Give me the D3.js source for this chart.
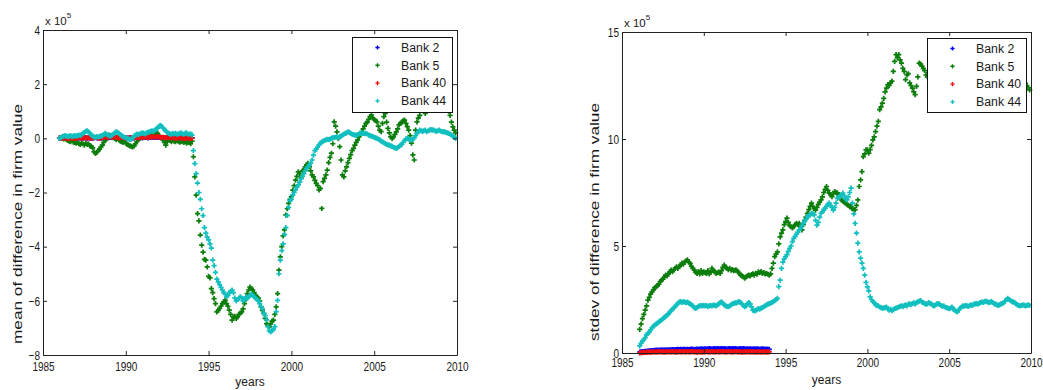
<!DOCTYPE html>
<html><head><meta charset="utf-8">
<script src="https://cdn.jsdelivr.net/npm/d3@7"></script>
<style>
body{margin:0;background:#fff}
svg{display:block}
text{font-family:"Liberation Sans",Arial,Helvetica,sans-serif;fill:#1a1a1a}
</style>
</head><body>
<svg id="chart" width="1043" height="390"></svg>
<script>
// ---------------- DATA ----------------
const seriesNames = ["Bank 2", "Bank 5", "Bank 40", "Bank 44"];
const seriesColors = ["#0000ff", "#0b7d0b", "#ee1111", "#12bfbf"];
const xTicks = [1985, 1990, 1995, 2000, 2005, 2010];
const meanTicks = [-8, -6, -4, -2, 0, 2, 4];
const stdTicks = [0, 5, 10, 15];
const meanStartYear = 1986;            // monthly observations
const stdStartYear = 1986 + 1 / 12;    // monthly observations
const monthsPerYear = 12;

// mean of difference in firm value (x 10^5)
const meanBank2 = [
 0.01,0.02,0.01,0.01,0.02,0.01,0.01,0.02,0.01,0.02,0.01,0.01,
 0.01,0.02,0.02,0.02,0.01,0.02,0.02,0.02,0.01,0.02,0.02,0.01,
 0.02,0.02,0.03,0.02,0.02,0.01,0.02,0.02,0.03,0.03,0.03,0.02,
 0.03,0.03,0.03,0.04,0.03,0.03,0.02,0.02,0.02,0.03,0.02,0.02,
 0.01,0.01,0.01,0.02,0.02,0.02,0.02,0.03,0.02,0.02,0.02,0.03,
 0.02,0.03,0.03,0.03,0.02,0.03,0.03,0.04,0.03,0.03,0.03,0.04,
 0.03,0.03,0.02,0.03,0.02,0.02,0.02,0.03,0.02,0.02,0.02,0.02,
 0.01,0.01,0.02,0.01,0.01,0.01,0.01,0.01,0.01,0.01,0.01,0.01,
 0.01];
const meanBank5 = [
 0.02,0.00,0.04,-0.02,0.03,-0.05,-0.08,-0.10,-0.12,-0.08,-0.14,-0.15,
 -0.18,-0.15,-0.20,-0.22,-0.18,-0.20,-0.25,-0.18,-0.22,-0.20,-0.28,-0.30,
 -0.35,-0.50,-0.56,-0.52,-0.45,-0.40,-0.32,-0.25,-0.15,-0.08,-0.02,0.05,
 0.12,0.10,0.08,0.05,0.00,-0.05,0.02,-0.06,-0.10,-0.12,-0.15,-0.10,
 -0.18,-0.22,-0.25,-0.28,-0.30,-0.32,-0.28,-0.20,-0.12,-0.05,0.00,0.06,
 0.08,0.05,0.10,0.12,0.08,0.14,0.16,0.18,0.12,0.15,0.20,0.18,
 0.10,0.05,0.00,-0.05,-0.15,-0.25,-0.12,-0.05,-0.08,-0.12,-0.08,-0.10,
 -0.12,-0.08,-0.10,-0.14,-0.12,-0.10,-0.15,-0.12,-0.18,-0.14,-0.15,-0.20,
 -0.10,-0.68,-1.42,-2.10,-2.78,-3.05,-3.57,-3.94,-4.20,-4.47,-4.50,-4.75,
 -5.10,-5.15,-5.55,-5.70,-5.92,-6.10,-6.41,-6.35,-6.28,-6.20,-6.10,-6.05,
 -5.97,-6.10,-6.20,-6.34,-6.50,-6.71,-6.60,-6.57,-6.65,-6.59,-6.50,-6.45,
 -6.41,-6.30,-6.10,-5.95,-5.73,-5.60,-5.49,-5.55,-5.60,-5.70,-5.80,-5.85,
 -5.90,-6.00,-6.22,-6.35,-6.47,-6.65,-6.84,-6.90,-6.96,-6.85,-6.75,-6.71,
 -6.50,-6.22,-5.73,-4.87,-4.38,-4.00,-3.60,-3.38,-2.83,-2.60,-2.40,-2.25,
 -2.15,-1.91,-1.75,-1.54,-1.40,-1.24,-1.30,-1.45,-1.20,-1.17,-1.05,-0.98,
 -0.92,-1.05,-1.20,-1.35,-1.42,-1.55,-1.66,-1.75,-1.90,-1.85,-2.59,-1.60,
 -1.48,-1.35,-1.17,-0.90,-0.70,-0.55,-0.20,0.61,0.45,0.24,0.00,-0.31,
 -0.80,-1.35,-1.42,-1.20,-1.05,-0.90,-0.74,-0.60,-0.45,-0.37,-0.25,-0.15,
 -0.06,0.05,0.15,0.25,0.35,0.45,0.55,0.60,0.70,0.80,0.86,0.75,
 0.70,0.65,0.61,0.45,0.30,0.25,0.55,0.80,0.92,0.60,0.37,0.20,
 0.05,0.00,0.05,0.15,0.24,0.35,0.50,0.55,0.60,0.65,0.67,0.55,
 0.43,0.30,0.10,-0.18,-0.61,-0.80,0.30,0.61,0.75,0.85,1.10,1.20,
 1.30,0.92,1.35,1.45,1.40,1.30,1.35,1.45,1.55,1.50,1.40,1.35,
 1.25,1.30,1.20,1.15,1.10,1.05,1.00,0.85,0.60,0.42,0.30,0.20];
const meanBank40 = [
 0.01,0.02,0.00,0.01,0.02,0.01,0.00,0.02,0.01,0.02,0.01,0.00,
 0.01,0.02,0.03,0.02,0.01,0.02,0.03,0.02,0.01,0.03,0.02,0.01,
 0.02,0.03,0.04,0.03,0.02,0.01,0.02,0.03,0.04,0.05,0.04,0.03,
 0.06,0.05,0.04,0.05,0.06,0.04,0.03,0.02,0.03,0.04,0.03,0.02,
 0.01,0.00,0.01,0.02,0.03,0.02,0.03,0.04,0.03,0.02,0.03,0.04,
 0.03,0.04,0.05,0.04,0.03,0.04,0.05,0.06,0.05,0.04,0.05,0.06,
 0.05,0.04,0.03,0.04,0.03,0.02,0.03,0.04,0.03,0.02,0.03,0.02,
 0.01,0.02,0.03,0.02,0.01,0.02,0.01,0.00,0.01,0.02,0.01,0.00,
 0.01];
const meanBank44 = [
 0.00,0.03,0.06,0.08,0.10,0.08,0.06,0.08,0.10,0.06,0.08,0.10,
 0.08,0.10,0.12,0.10,0.14,0.18,0.22,0.26,0.28,0.24,0.18,0.12,
 0.08,0.05,0.04,0.06,0.05,0.07,0.08,0.10,0.14,0.18,0.15,0.12,
 0.10,0.08,0.12,0.16,0.20,0.24,0.22,0.18,0.14,0.10,0.06,0.04,
 0.02,0.00,-0.02,-0.04,-0.03,0.02,0.08,0.12,0.16,0.14,0.16,0.18,
 0.20,0.18,0.16,0.20,0.22,0.24,0.26,0.28,0.26,0.30,0.34,0.38,
 0.44,0.48,0.44,0.38,0.32,0.28,0.22,0.18,0.16,0.15,0.18,0.16,
 0.18,0.15,0.16,0.18,0.20,0.17,0.15,0.18,0.20,0.16,0.15,0.17,
 0.12,-0.45,-0.93,-1.30,-1.65,-2.00,-2.25,-2.60,-2.85,-3.30,-3.50,-3.65,
 -3.75,-3.90,-4.05,-4.50,-4.70,-4.95,-5.20,-5.30,-5.40,-5.50,-5.60,-5.70,
 -5.75,-5.85,-5.80,-5.70,-5.65,-5.60,-5.70,-5.90,-6.00,-5.95,-5.90,-5.85,
 -5.90,-6.00,-5.95,-5.85,-5.90,-5.85,-5.80,-5.75,-5.80,-5.85,-5.90,-5.95,
 -6.00,-6.10,-6.20,-6.30,-6.45,-6.55,-6.70,-6.95,-7.10,-7.15,-7.10,-7.05,
 -6.95,-6.40,-5.98,-5.00,-4.50,-4.15,-3.90,-3.55,-3.30,-2.85,-2.55,-2.30,
 -2.25,-2.10,-2.00,-1.90,-1.80,-1.72,-1.62,-1.50,-1.40,-1.30,-1.20,-1.12,
 -1.05,-0.98,-0.92,-0.80,-0.62,-0.45,-0.40,-0.32,-0.25,-0.18,-0.14,-0.10,
 -0.08,-0.06,-0.04,-0.05,-0.03,0.00,0.02,0.03,0.04,0.05,0.03,0.06,
 0.08,0.12,0.15,0.18,0.20,0.24,0.22,0.18,0.15,0.14,0.12,0.12,
 0.14,0.16,0.18,0.20,0.18,0.17,0.18,0.16,0.12,0.10,0.08,0.06,
 0.04,0.02,0.00,-0.03,-0.06,-0.10,-0.13,-0.16,-0.20,-0.22,-0.24,-0.25,
 -0.28,-0.30,-0.33,-0.35,-0.37,-0.34,-0.30,-0.26,-0.22,-0.15,-0.08,-0.02,
 0.00,-0.03,-0.05,-0.06,-0.04,0.02,0.10,0.18,0.25,0.30,0.28,0.26,
 0.28,0.30,0.25,0.27,0.30,0.32,0.30,0.31,0.28,0.26,0.28,0.30,
 0.27,0.25,0.25,0.24,0.22,0.20,0.18,0.16,0.12,0.08,0.04,0.00];

// stdev of difference in firm value (x 10^5)
const stdBank2 = [
 0.04,0.05,0.06,0.07,0.08,0.08,0.09,0.10,0.10,0.11,0.11,
 0.12,0.12,0.13,0.12,0.13,0.14,0.13,0.14,0.14,0.15,0.14,0.15,
 0.15,0.16,0.15,0.16,0.16,0.17,0.16,0.17,0.16,0.17,0.17,0.16,
 0.17,0.16,0.17,0.18,0.17,0.16,0.17,0.18,0.17,0.18,0.19,0.18,
 0.18,0.19,0.18,0.19,0.20,0.19,0.18,0.19,0.20,0.19,0.20,0.19,
 0.19,0.20,0.19,0.20,0.19,0.18,0.19,0.20,0.19,0.20,0.19,0.20,
 0.19,0.18,0.19,0.20,0.19,0.20,0.19,0.18,0.19,0.18,0.19,0.18,
 0.18,0.19,0.18,0.19,0.18,0.17,0.18,0.19,0.18,0.17,0.18,0.17,
 0.17];
const stdBank5 = [
 1.10,1.35,1.61,1.80,2.00,2.20,2.47,2.60,2.75,2.86,2.95,
 3.05,3.09,3.15,3.22,3.33,3.40,3.45,3.55,3.64,3.60,3.70,3.78,
 3.87,3.80,3.90,3.95,4.03,3.95,4.05,4.11,4.20,4.15,4.25,4.31,
 4.35,4.25,4.19,4.05,3.95,3.87,3.78,3.72,3.80,3.70,3.85,3.72,
 3.79,3.75,3.72,3.85,3.70,3.78,3.95,3.85,3.80,3.72,3.75,3.78,
 3.72,3.85,4.00,4.11,4.00,3.95,3.90,3.95,3.87,3.90,3.85,3.87,
 3.87,3.80,3.72,3.64,3.60,3.56,3.50,3.56,3.60,3.64,3.60,3.66,
 3.70,3.64,3.72,3.68,3.79,3.75,3.80,3.72,3.76,3.70,3.72,3.68,
 3.64,3.70,3.95,4.20,4.50,4.62,4.73,5.10,5.43,5.60,5.75,6.00,
 6.14,6.30,6.10,5.95,5.90,5.85,5.90,6.00,6.06,6.00,6.06,5.90,
 5.75,6.00,6.20,6.35,6.53,6.70,6.85,7.00,6.85,6.75,6.68,6.80,
 6.95,7.05,7.15,7.30,7.50,7.65,7.78,7.60,7.47,7.40,7.31,7.45,
 7.54,7.50,7.47,7.40,7.30,7.15,7.10,7.05,7.00,6.95,6.90,6.84,
 6.84,6.75,6.68,6.70,6.90,7.15,7.78,8.09,8.48,9.18,9.30,9.49,
 9.49,9.34,9.50,9.70,9.96,10.10,10.35,10.60,10.82,11.37,11.50,11.68,
 11.90,12.20,12.38,12.54,12.50,12.62,12.70,13.16,13.63,13.94,13.80,13.94,
 13.70,13.55,13.30,13.16,12.77,13.00,13.05,12.62,12.50,12.38,12.20,12.07,
 12.46,12.90,13.55,13.50,13.40,13.30,13.20,13.00,12.90,13.10,13.30,13.20,
 13.00,12.80,12.90,13.10,13.30,13.20,13.00,12.70,12.60,12.80,13.00,13.10,
 13.20,13.40,13.30,13.10,12.90,12.80,12.90,13.10,13.20,13.00,12.80,12.70,
 12.80,13.00,13.20,13.10,12.90,12.80,12.70,12.90,13.00,13.20,13.30,13.10,
 13.00,12.90,12.80,13.00,13.20,13.40,13.50,13.30,13.20,13.00,12.90,12.80,
 12.90,13.10,13.30,13.50,13.60,13.40,13.20,13.00,12.80,12.70,12.90,13.00,
 13.10,13.00,12.90,12.80,12.90,13.00,12.80,12.70,12.60,12.50,12.40,12.30];
const stdBank40 = [
 0.01,0.02,0.02,0.03,0.03,0.03,0.04,0.04,0.04,0.04,0.05,
 0.05,0.04,0.05,0.05,0.06,0.05,0.05,0.04,0.05,0.05,0.06,0.05,
 0.05,0.06,0.05,0.05,0.04,0.05,0.06,0.05,0.05,0.06,0.05,0.05,
 0.06,0.05,0.05,0.06,0.06,0.05,0.05,0.04,0.05,0.05,0.05,0.04,
 0.05,0.05,0.06,0.05,0.05,0.05,0.06,0.05,0.05,0.05,0.06,0.05,
 0.05,0.06,0.06,0.05,0.05,0.05,0.06,0.06,0.05,0.05,0.05,0.06,
 0.06,0.05,0.05,0.05,0.04,0.05,0.05,0.05,0.06,0.05,0.05,0.05,
 0.05,0.05,0.04,0.05,0.05,0.05,0.04,0.05,0.05,0.05,0.04,0.05,
 0.05];
const stdBank44 = [
 0.33,0.45,0.55,0.62,0.72,0.85,0.92,0.98,1.08,1.18,1.25,
 1.30,1.35,1.40,1.45,1.50,1.55,1.60,1.65,1.72,1.77,1.82,1.90,
 1.98,2.05,2.10,2.18,2.25,2.32,2.38,2.40,2.36,2.40,2.38,2.35,
 2.38,2.33,2.30,2.25,2.20,2.12,2.08,2.12,2.18,2.20,2.22,2.20,
 2.23,2.20,2.22,2.18,2.20,2.22,2.20,2.24,2.23,2.20,2.25,2.30,
 2.35,2.39,2.32,2.25,2.20,2.18,2.16,2.20,2.25,2.30,2.32,2.34,
 2.34,2.38,2.40,2.36,2.30,2.22,2.16,2.20,2.30,2.35,2.30,2.15,
 2.00,1.97,1.98,2.02,2.08,2.05,2.10,2.12,2.16,2.20,2.25,2.28,
 2.31,2.33,2.36,2.40,2.45,2.50,2.55,3.10,3.40,3.95,4.25,4.40,
 4.50,4.60,4.75,4.89,5.00,5.20,5.36,5.45,5.55,5.65,5.75,5.85,
 5.95,6.06,6.15,6.25,6.37,6.40,6.45,6.53,6.50,6.45,6.20,5.98,
 6.10,6.35,6.53,6.60,6.70,6.76,6.85,6.95,7.00,6.90,6.80,6.68,
 6.80,7.00,7.23,7.28,7.31,7.40,7.47,7.35,7.20,7.15,7.30,7.50,
 7.70,7.00,6.50,6.06,5.60,5.13,4.73,4.43,4.20,3.95,3.64,3.30,
 3.09,2.90,2.62,2.50,2.40,2.35,2.25,2.23,2.20,2.15,2.12,2.10,
 2.10,2.12,2.15,2.05,2.00,2.05,1.98,2.02,2.08,2.10,2.12,2.15,
 2.18,2.20,2.16,2.22,2.25,2.20,2.28,2.30,2.26,2.31,2.34,2.30,
 2.35,2.39,2.42,2.45,2.38,2.35,2.31,2.28,2.30,2.35,2.32,2.28,
 2.23,2.20,2.25,2.30,2.31,2.27,2.22,2.18,2.20,2.15,2.12,2.10,
 2.07,2.10,2.15,2.05,2.00,1.95,1.92,2.00,2.10,2.15,2.20,2.18,
 2.23,2.20,2.18,2.22,2.25,2.23,2.28,2.30,2.31,2.28,2.33,2.35,
 2.39,2.36,2.40,2.42,2.39,2.35,2.38,2.40,2.36,2.30,2.28,2.25,
 2.23,2.26,2.30,2.31,2.35,2.42,2.50,2.55,2.50,2.45,2.40,2.39,
 2.35,2.30,2.25,2.23,2.20,2.22,2.25,2.23,2.20,2.23,2.25,2.22];

// ---------------- LAYOUT ----------------
const panels = [
  { left: 43, right: 457, top: 30, bottom: 355, domain: [-8, 4], ticks: meanTicks,
    ylabel: "mean of difference in firm value", start: meanStartYear,
    values: [meanBank2, meanBank5, meanBank40, meanBank44],
    xPad: 7, yPad: 3, ylabX: 17.5, ylabY: 224, ylabLen: 240, xlabY: 386,
    legend: { x: 352, y: 37, w: 100, h: 75 } },
  { left: 622, right: 1031, top: 32, bottom: 353, domain: [0, 15], ticks: stdTicks,
    ylabel: "stdev of difference in firm value", start: stdStartYear,
    values: [stdBank2, stdBank5, stdBank40, stdBank44],
    xPad: 5, yPad: 3, ylabX: 594, ylabY: 222, ylabLen: 238, xlabY: 384,
    legend: { x: 927, y: 38, w: 99, h: 74 } }
];

const svg = d3.select("#chart");
svg.append("rect").attr("width", 1043).attr("height", 390).attr("fill", "#fff");
const marker = d3.symbol().type(d3.symbolCross).size(15)();
const legendMarker = d3.symbol().type(d3.symbolCross).size(10)();
const squeeze = 0.77;

panels.forEach(p => {
  const x = d3.scaleLinear().domain([xTicks[0], xTicks[xTicks.length - 1]]).range([p.left, p.right]);
  const y = d3.scaleLinear().domain(p.domain).range([p.bottom, p.top]);
  const g = svg.append("g");

  // data markers
  p.values.forEach((vals, k) => {
    g.append("g").selectAll("path").data(vals).enter().append("path")
      .attr("d", marker)
      .attr("fill", seriesColors[k])
      .attr("transform", (v, i) => `translate(${x(p.start + i / monthsPerYear)},${y(v)})`);
  });

  // axes (inward ticks on all four sides)
  const styleAxis = sel => {
    sel.attr("font-size", null).attr("font-family", null).attr("color", "#222");
    sel.selectAll("path.domain").attr("stroke-width", 1);
  };
  const ax = svg.append("g");
  ax.append("g").attr("transform", `translate(0,${p.bottom})`)
    .call(d3.axisBottom(x).tickValues(xTicks).tickSize(-4).tickSizeOuter(0).tickPadding(p.xPad).tickFormat(d3.format("d")))
    .call(styleAxis)
    .selectAll("text").attr("font-size", 13).attr("fill", "#2a2a2a").attr("transform", `scale(${squeeze},1)`);
  ax.append("g").attr("transform", `translate(0,${p.top})`)
    .call(d3.axisTop(x).tickValues(xTicks).tickSize(-4).tickSizeOuter(0).tickFormat(() => ""))
    .call(styleAxis);
  ax.append("g").attr("transform", `translate(${p.left},0)`)
    .call(d3.axisLeft(y).tickValues(p.ticks).tickSize(-4).tickSizeOuter(0).tickPadding(p.yPad / squeeze).tickFormat(d3.format("d")))
    .call(styleAxis)
    .selectAll("text").attr("font-size", 13).attr("fill", "#2a2a2a").attr("transform", `scale(${squeeze},1)`);
  ax.append("g").attr("transform", `translate(${p.right},0)`)
    .call(d3.axisRight(y).tickValues(p.ticks).tickSize(-4).tickSizeOuter(0).tickFormat(() => ""))
    .call(styleAxis);

  // exponent label
  const ex = svg.append("text").attr("x", p.left + 2).attr("y", p.top - 5).attr("font-size", 11.5).attr("fill", "#333");
  ex.append("tspan").text("x 10");
  ex.append("tspan").attr("dy", -7).attr("font-size", 8).text("5");

  // axis titles
  svg.append("text").attr("x", (p.left + p.right) / 2).attr("y", p.xlabY)
    .attr("text-anchor", "middle").attr("font-size", 12).attr("fill", "#333").text("years");
  svg.append("text")
    .attr("transform", `translate(${p.ylabX + 4.5},${p.ylabY}) rotate(-90)`)
    .attr("text-anchor", "middle").attr("font-size", 13).attr("fill", "#444")
    .attr("textLength", p.ylabLen).attr("lengthAdjust", "spacingAndGlyphs")
    .text(p.ylabel);

  // legend
  const L = p.legend;
  const lg = svg.append("g");
  lg.append("rect").attr("x", L.x + 0.5).attr("y", L.y + 0.5).attr("width", L.w).attr("height", L.h)
    .attr("fill", "#fff").attr("stroke", "#111").attr("stroke-width", 1);
  seriesNames.forEach((name, k) => {
    const ry = L.y + 10.5 + k * 17.8;
    lg.append("path").attr("d", legendMarker).attr("fill", seriesColors[k])
      .attr("transform", `translate(${L.x + 25.5},${ry})`);
    lg.append("text").attr("x", L.x + 49).attr("y", ry + 4.3).attr("font-size", 12.3).attr("fill", "#222").text(name);
  });
});
</script>
</body></html>
